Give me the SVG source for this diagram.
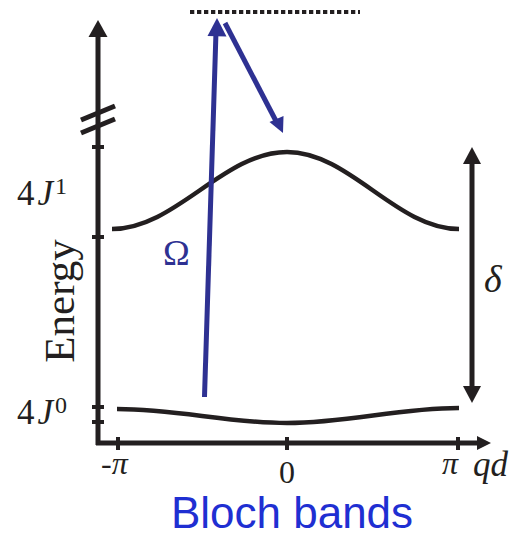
<svg xmlns="http://www.w3.org/2000/svg" width="517" height="538" viewBox="0 0 517 538">
<style>
.ax{stroke:#231f20;stroke-width:5;fill:none}
.band{stroke:#231f20;stroke-width:4.5;fill:none}
.tick{stroke:#231f20;stroke-width:4;fill:none}
.blk{fill:#231f20}
.blue{stroke:#2e3192;stroke-width:5;fill:none}
.bluef{fill:#2e3192}
.serif{font-family:"Liberation Serif","DejaVu Serif",serif;fill:#231f20}
.it{font-style:italic}
</style>
<rect width="517" height="538" fill="#fff"/>
<g id="axes">
<line class="ax" x1="98" y1="445" x2="98" y2="34"/>
<polygon class="blk" points="98,20 88.5,37 107.5,37"/>
<line class="ax" x1="96" y1="443" x2="480" y2="443"/>
<polygon class="blk" points="491,443 477,436 477,450"/>
<line class="ax" x1="81" y1="120" x2="115" y2="106"/>
<line class="ax" x1="81" y1="133" x2="115" y2="119"/>
<line class="tick" x1="92" y1="147" x2="104" y2="147"/>
<line class="tick" x1="92" y1="237" x2="104" y2="237"/>
<line class="tick" x1="92" y1="407" x2="104" y2="407"/>
<line class="tick" x1="92" y1="422" x2="104" y2="422"/>
<line class="tick" x1="118" y1="437" x2="118" y2="450"/>
<line class="tick" x1="287" y1="437" x2="287" y2="450"/>
<line class="tick" x1="458" y1="437" x2="458" y2="450"/>
</g>
<g id="labels">
<text class="serif" x="17" y="205" font-size="35">4<tspan class="it" dx="3">J</tspan><tspan font-size="24" dx="2" dy="-11">1</tspan></text>
<text class="serif" x="17" y="424" font-size="35">4<tspan class="it" dx="3">J</tspan><tspan font-size="24" dx="2" dy="-11">0</tspan></text>
<text class="serif" font-size="43" text-anchor="middle" transform="translate(74,301) rotate(-90)">Energy</text>
<text class="serif" x="101" y="474" font-size="32">-<tspan class="it">π</tspan></text>
<text class="serif" x="287" y="483" font-size="32" text-anchor="middle">0</text>
<text class="serif it" x="442" y="474" font-size="32">π</text>
<text class="serif it" x="473" y="476" font-size="35">qd</text>
<text x="292" y="528" font-family="'Liberation Sans',Arial,sans-serif" font-size="44" fill="#1f2fd2" text-anchor="middle">Bloch bands</text>
</g>
<g id="bands">
<path class="band" d="M112,229 C175.7,229 223.3,152 287,152 C349.6,152 396.4,229 459,229"/>
<path class="band" d="M117,409 C178.5,409 225.5,423 287,423 C349,423 397,408 459,408"/>
</g>
<g id="delta">
<line class="ax" x1="472" y1="160" x2="472" y2="390"/>
<polygon class="blk" points="472,147 463,164 481,164"/>
<polygon class="blk" points="472,403 463,386 481,386"/>
<text class="serif it" x="484" y="292" font-size="38">δ</text>
</g>
<g id="virtual">
<line x1="190" y1="12" x2="360" y2="12" stroke="#231f20" stroke-width="4" stroke-dasharray="4.3 2.7"/>
</g>
<g id="connectors">
<line class="blue" x1="204.5" y1="397" x2="216" y2="32"/>
<polygon class="bluef" points="217,18 207.5,36 226.5,36.5"/>
<line class="blue" x1="225" y1="23" x2="276" y2="121"/>
<polygon class="bluef" points="283,133 269.5,122 283.5,116"/>
<text x="163" y="265" font-family="'Liberation Serif',serif" font-size="36" fill="#2e3192">Ω</text>
</g>
</svg>
